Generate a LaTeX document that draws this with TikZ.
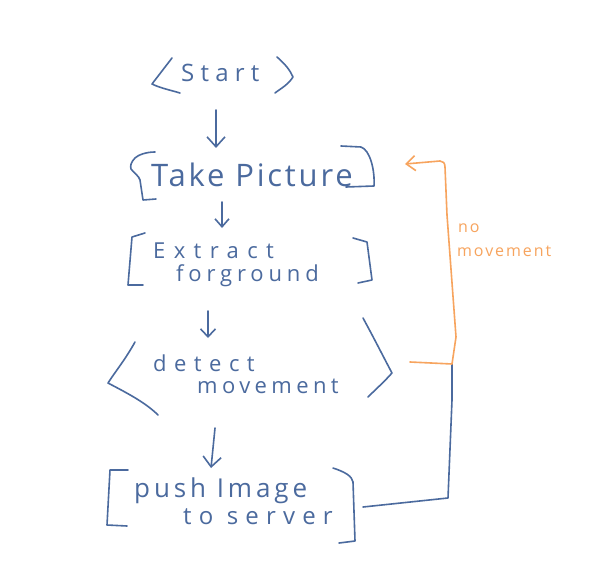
\documentclass[tikz,border=0pt]{standalone}
\usepackage{fontspec}
\setmainfont{Open Sans}
\usetikzlibrary{arrows.meta}
\definecolor{pen}{HTML}{4B6A9E}
\definecolor{hl}{HTML}{F7A45E}
\begin{document}
\begin{tikzpicture}[x=1pt,y=-1pt,
  ink/.style={draw=pen, line width=1.6pt, line cap=round, line join=round},
  orange ink/.style={draw=hl, line width=1.6pt, line cap=round, line join=round},
  arr/.style={ink, -{Straight Barb[length=10pt,width=18pt,line width=1.6pt]}},
  oarr/.style={orange ink, -{Straight Barb[length=9pt,width=15pt,line width=1.6pt]}},
  txt/.style={text=pen, inner sep=0pt, anchor=base west},
  otxt/.style={text=hl, inner sep=0pt, anchor=base west, font=\fontsize{16}{18}\selectfont\addfontfeatures{LetterSpace=12}}]
\useasboundingbox (0,0) rectangle (596,585);
\fill[white] (0,0) rectangle (596,585);

% texts
\node[txt, font=\fontsize{24}{28}\selectfont\addfontfeatures{LetterSpace=26}] (start) at (181,82) {Start};
\node[txt, font=\fontsize{31}{36}\selectfont\addfontfeatures{LetterSpace=9}] (take) at (151,187) {Take Picture};
\node[txt, font=\fontsize{22}{26}\selectfont\addfontfeatures{LetterSpace=38}] (ext1) at (153,258) {Extract};
\node[txt, font=\fontsize{22}{26}\selectfont\addfontfeatures{LetterSpace=22}] (ext2) at (176,281) {forground};
\node[txt, font=\fontsize{22}{26}\selectfont\addfontfeatures{LetterSpace=34}] (det1) at (153,371) {detect};
\node[txt, font=\fontsize{22}{26}\selectfont\addfontfeatures{LetterSpace=20}] (det2) at (197,393) {movement};
\node[txt, font=\fontsize{26}{30}\selectfont\addfontfeatures{LetterSpace=15}] (push1) at (134,497) {push Image};
\node[txt, font=\fontsize{24}{28}\selectfont\addfontfeatures{LetterSpace=30}] (push2) at (183,524) {to server};
\node[otxt] (no1) at (458,232) {no};
\node[otxt] (no2) at (457,256) {movement};

% start brackets
\draw[ink] (172,58) -- (152,84) .. controls (160,88) and (170,90) .. (180,93);
\draw[ink] (277,57) .. controls (285,64) and (290,70) .. (293,77) .. controls (288,85) and (280,89) .. (275,93);
% take picture brackets
\draw[ink] (155,152) .. controls (146,152) and (138,155) .. (135,158) .. controls (131,162) and (130,166) .. (131,169) .. controls (134,173) and (139,176) .. (140,180) -- (143,200) -- (156,199);
\draw[ink] (341,146) -- (361,147) .. controls (370,150) and (375,170) .. (374,186) -- (346,187);
% extract brackets
\draw[ink] (145,233) -- (132,237) -- (128,285) -- (143,285);
\draw[ink] (353,238) -- (367,242) -- (372,280) -- (358,283);
% detect brackets
\draw[ink] (135,342) .. controls (125,360) and (115,372) .. (108,383) .. controls (125,392) and (145,402) .. (158,415);
\draw[ink] (363,318) .. controls (375,340) and (385,360) .. (392,373) .. controls (384,382) and (375,390) .. (368,397);
% push brackets
\draw[ink] (128,470) -- (110,470) -- (107,525) -- (127,526);
\draw[ink] (333,468) .. controls (345,472) and (352,476) .. (353,482) -- (355,541) -- (339,543);

% arrows
\coordinate (a1s) at (216,110); \coordinate (a1e) at (216,148);
\coordinate (a2s) at (222,202); \coordinate (a2e) at (222,228);
\coordinate (a3s) at (208,311); \coordinate (a3e) at (208,338);
\coordinate (a4s) at (215,428); \coordinate (a4e) at (211,468);
\draw[arr] (a1s) -- (a1e);
\draw[arr, -{Straight Barb[length=8pt,width=14pt,line width=1.6pt]}] (a2s) -- (a2e);
\draw[arr, -{Straight Barb[length=8pt,width=15pt,line width=1.6pt]}] (a3s) -- (a3e);
\draw[arr] (a4s) -- (a4e);

% loop back
\coordinate (ls) at (363,507);
\coordinate (lc) at (452,364);
\coordinate (ld) at (410,362);
\coordinate (lt) at (405,164);
\draw[ink] (ls) -- (448,498) -- (452,400) -- (lc);
\draw[orange ink] (ld) -- (lc) -- (456,337) -- (447,215) -- (445,167) .. controls (445,163) and (443,161) .. (440,161);
\draw[oarr] (440,161) -- (lt);
\end{tikzpicture}
\end{document}
